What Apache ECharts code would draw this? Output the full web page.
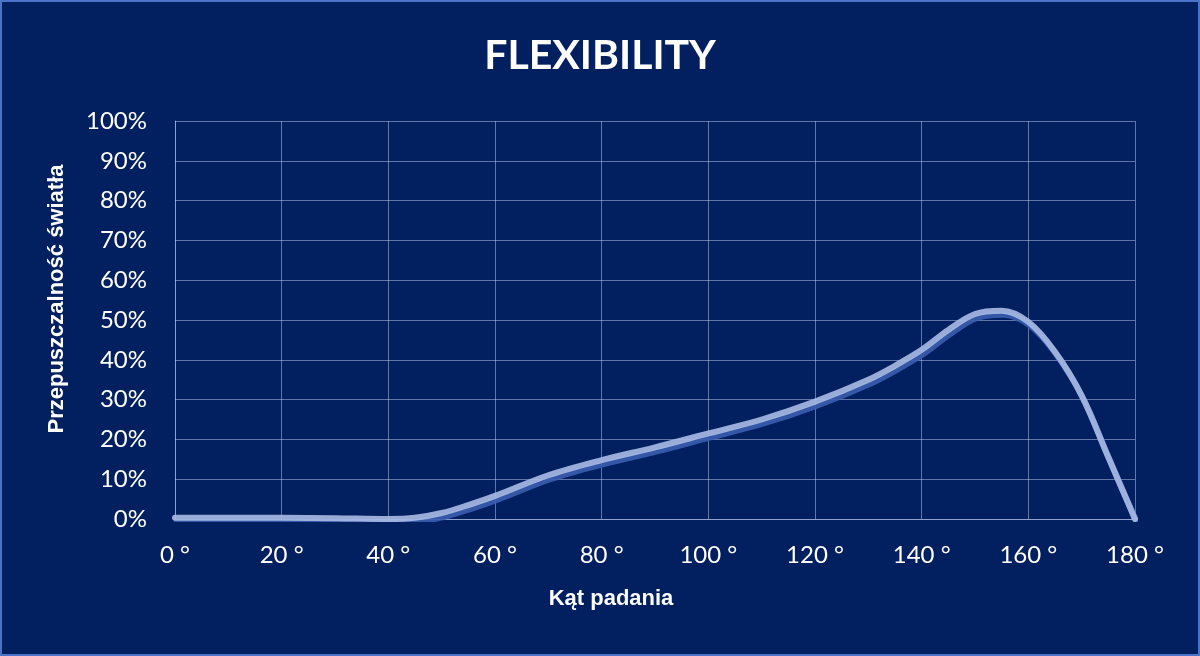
<!DOCTYPE html>
<html>
<head>
<meta charset="utf-8">
<script src="https://cdn.jsdelivr.net/npm/echarts@6/dist/echarts.min.js"></script>
<style>
  html, body { margin: 0; padding: 0; background: #021f5f; }
  #chart { width: 1200px; height: 656px; box-sizing: border-box; border: 2px solid #4a74c9; }
</style>
</head>
<body>
<div id="chart"></div>
<script>
// kąt padania (stopnie) i przepuszczalność (%)
const angles = [0, 10, 20, 30, 40, 45, 50, 55, 60, 70, 80, 90, 100, 110, 120, 130, 135, 140, 145, 150, 155, 160, 165, 170, 175, 180];
const transmission = [0.3, 0.3, 0.3, 0.2, 0, 0.3, 1.5, 3.5, 5.8, 11, 14.8, 18, 21.5, 25, 29.5, 35, 38.5, 42.5, 47.5, 51.5, 52.3, 49.5, 42, 31, 15.5, 0];
const xTicks = [0, 20, 40, 60, 80, 100, 120, 140, 160, 180];
const yTicks = [0, 10, 20, 30, 40, 50, 60, 70, 80, 90, 100];

const gridColor = 'rgba(190, 205, 240, 0.5)';

let chart = echarts.init(document.getElementById('chart'));
chart.setOption({
    backgroundColor: '#021f5f',
    title: {
        text: 'FLEXIBILITY',
        left: 'center',
        top: 28,
        textStyle: {
            color: '#ffffff',
            fontFamily: 'Lato',
            fontWeight: 'bold',
            fontSize: 41
        }
    },
    grid: {
        left: 173,
        right: 63,
        top: 119,
        bottom: 135
    },
    xAxis: {
        type: 'value',
        min: xTicks[0],
        max: xTicks[xTicks.length - 1],
        interval: 20,
        name: 'Kąt padania',
        nameLocation: 'middle',
        nameGap: 69,
        nameTextStyle: {
            color: '#ffffff',
            fontFamily: 'Liberation Sans',
            fontWeight: 'bold',
            fontSize: 22,
            padding: [0, 88, 0, 0]
        },
        axisLine: { show: true, lineStyle: { color: gridColor, width: 1 } },
        axisTick: { show: false },
        axisLabel: {
            color: '#ffffff',
            fontFamily: 'Lato',
            fontSize: 24,
            margin: 24,
            formatter: '{value} °'
        },
        splitLine: { show: true, lineStyle: { color: gridColor, width: 1 } }
    },
    yAxis: {
        type: 'value',
        min: yTicks[0],
        max: yTicks[yTicks.length - 1],
        interval: 10,
        name: 'Przepuszczalność światła',
        nameLocation: 'middle',
        nameGap: 107,
        nameTextStyle: {
            color: '#ffffff',
            fontFamily: 'Liberation Sans',
            fontWeight: 'bold',
            fontSize: 22,
            padding: [0, 0, 0, 42]
        },
        axisLine: { show: true, lineStyle: { color: gridColor, width: 1 } },
        axisTick: { show: false },
        axisLabel: {
            color: '#ffffff',
            fontFamily: 'Lato',
            fontSize: 24,
            margin: 28,
            formatter: '{value}%'
        },
        splitLine: { show: true, lineStyle: { color: gridColor, width: 1 } }
    },
    series: [
        {
            name: 'Flexibility',
            type: 'line',
            smooth: 0.35,
            showSymbol: false,
            data: angles.map((a, i) => [a, transmission[i]]),
            lineStyle: {
                width: 6,
                color: '#a9bbe4',
                opacity: 0.9,
                shadowColor: '#3a5db0',
                shadowBlur: 0,
                shadowOffsetX: 2,
                shadowOffsetY: 4,
                cap: 'round'
            }
        }
    ]
});
</script>
</body>
</html>
